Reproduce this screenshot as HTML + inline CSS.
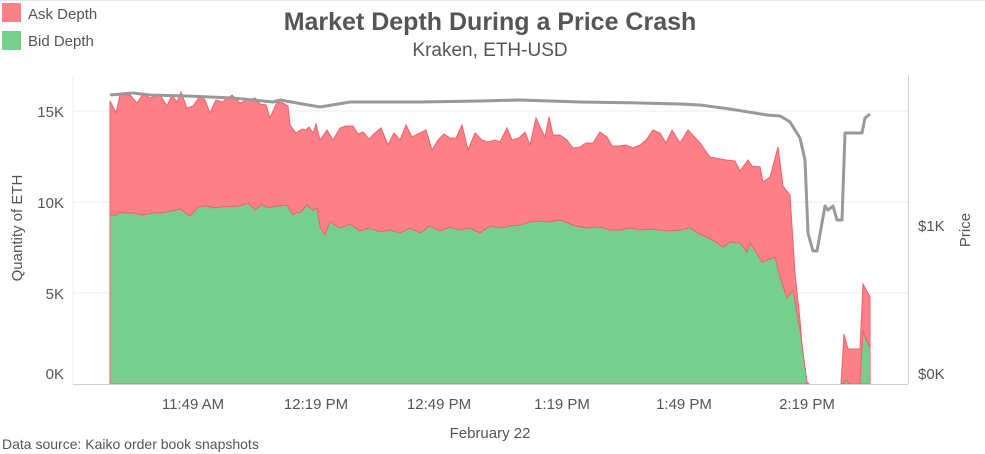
<!DOCTYPE html>
<html><head><meta charset="utf-8"><style>
body{margin:0;background:#fff;}
svg{display:block;font-family:"Liberation Sans",sans-serif;}
</style></head><body>
<svg width="985" height="454" viewBox="0 0 985 454" xmlns="http://www.w3.org/2000/svg">
<rect width="985" height="454" fill="#fff"/>
<line x1="0" y1="0.5" x2="985" y2="0.5" stroke="#e6e6e6"/>
<rect x="2" y="3" width="19" height="19" fill="#ff8087"/>
<text x="28" y="19" font-size="15" fill="#555">Ask Depth</text>
<rect x="2" y="31" width="19" height="19" fill="#77cf8e"/>
<text x="28" y="46" font-size="15" fill="#555">Bid Depth</text>
<text x="490" y="30" font-size="25" font-weight="bold" fill="#555" text-anchor="middle">Market Depth During a Price Crash</text>
<text x="490" y="56" font-size="19" fill="#555" text-anchor="middle">Kraken, ETH-USD</text>
<g stroke="#ececec" stroke-width="1">
<line x1="73" y1="111" x2="908" y2="111"/>
<line x1="73" y1="202" x2="908" y2="202"/>
<line x1="73" y1="293" x2="908" y2="293"/>
<line x1="73" y1="75" x2="73" y2="384"/>
</g>
<line x1="908.5" y1="75" x2="908.5" y2="384" stroke="#d0d0d0"/>
<path fill="#ff8087" stroke="#f0606a" stroke-width="1" d="M110,384 L110,101 116,113 120,95 130,95 137,103 143,94 150,98 160,95 167,106 172,95 177,102 181,92 187,108 193,106 200,96 205,100 210,113 216,100 222,102 232,95 240,103 245,101 255,98 260,104 266,105 270,118 277,102 283,103 288,106 290,125 296,133 302,129 306,130 309,127 313,133 316,124 320,140 327,130 333,140 340,128 346,126 353,126 358,134 363,132 369,139 375,133 381,128 388,145 394,133 400,140 406,125 412,137 420,133 426,130 432,150 438,140 444,134 450,138 456,138 462,125 468,150 475,133 482,140 488,142 495,140 500,142 507,128 512,140 519,138 525,132 530,145 536,118 540,127 545,137 549,117 553,135 560,135 567,140 573,148 580,147 586,143 593,143 600,132 607,137 612,146 619,146 626,145 633,148 640,145 646,140 653,130 660,133 666,143 672,130 680,143 688,130 700,143 710,157 726,160 735,161 740,171 748,160 752,166 760,167 763,182 770,177 778,147 783,186 790,195 795,273 800,320 804,370 807,382 809,384 Z"/>
<path fill="#ff8087" stroke="#f0606a" stroke-width="1" d="M841,384 L844,334 848,349 860,349 863,284 870,297 870,384 Z"/>
<path fill="#77cf8e" stroke="#f0606a" stroke-width="1" d="M110,384 L110,215 117,215 120,212 123,213 133,213 143,215 153,213 160,213 167,212 180,209 190,216 198,207 207,206 213,208 220,207 240,206 248,203 255,210 262,204 267,208 277,206 287,205 293,215 297,212 300,213 307,205 313,210 317,208 320,227 325,235 330,222 340,228 350,224 360,231 370,228 380,232 390,230 400,233 410,228 420,233 430,226 440,231 450,227 460,230 470,228 480,233 490,226 500,228 510,226 520,225 530,222 540,221 550,222 560,220 570,224 580,227 590,228 600,227 610,230 620,230 630,228 640,230 650,229 660,230 670,231 680,230 690,228 700,234 713,240 723,247 730,242 740,243 747,252 750,243 762,262 775,257 780,277 787,298 793,290 800,330 807,382 809,384 Z"/>
<path fill="#77cf8e" stroke="#f0606a" stroke-width="1" d="M843,384 L846,380 850,384 860,384 863,330 866,340 870,347 870,384 Z"/>
<polyline fill="none" stroke="#999" stroke-width="3" stroke-linejoin="round" points="110,95 133,93 150,95 187,96 233,98 273,102 280,100 320,107 350,102 420,102 480,101 520,100 580,102 640,103 680,104 700,105 730,109 767,115 780,116 787,120 790,122 795,130 800,138 805,160 808,233 813,251 817,251 825,206 828,210 833,206 837,220 842,220 845,133 862,133 865,118 870,114"/>
<line x1="73" y1="384.5" x2="908" y2="384.5" stroke="#d0d0d0"/>
<g font-size="15" fill="#555">
<text x="64" y="117" text-anchor="end">15K</text>
<text x="64" y="208" text-anchor="end">10K</text>
<text x="64" y="299" text-anchor="end">5K</text>
<text x="64" y="379" text-anchor="end">0K</text>
<text x="918" y="231">$1K</text>
<text x="918" y="379">$0K</text>
<text transform="translate(22,228) rotate(-90)" text-anchor="middle">Quantity of ETH</text>
<text transform="translate(970,230) rotate(-90)" text-anchor="middle">Price</text>
<text x="193" y="409" text-anchor="middle">11:49 AM</text>
<text x="316" y="409" text-anchor="middle">12:19 PM</text>
<text x="439" y="409" text-anchor="middle">12:49 PM</text>
<text x="562" y="409" text-anchor="middle">1:19 PM</text>
<text x="684" y="409" text-anchor="middle">1:49 PM</text>
<text x="807" y="409" text-anchor="middle">2:19 PM</text>
<text x="490" y="438" text-anchor="middle">February 22</text>
<text x="2" y="449" font-size="14">Data source: Kaiko order book snapshots</text>
</g>
</svg>
</body></html>
